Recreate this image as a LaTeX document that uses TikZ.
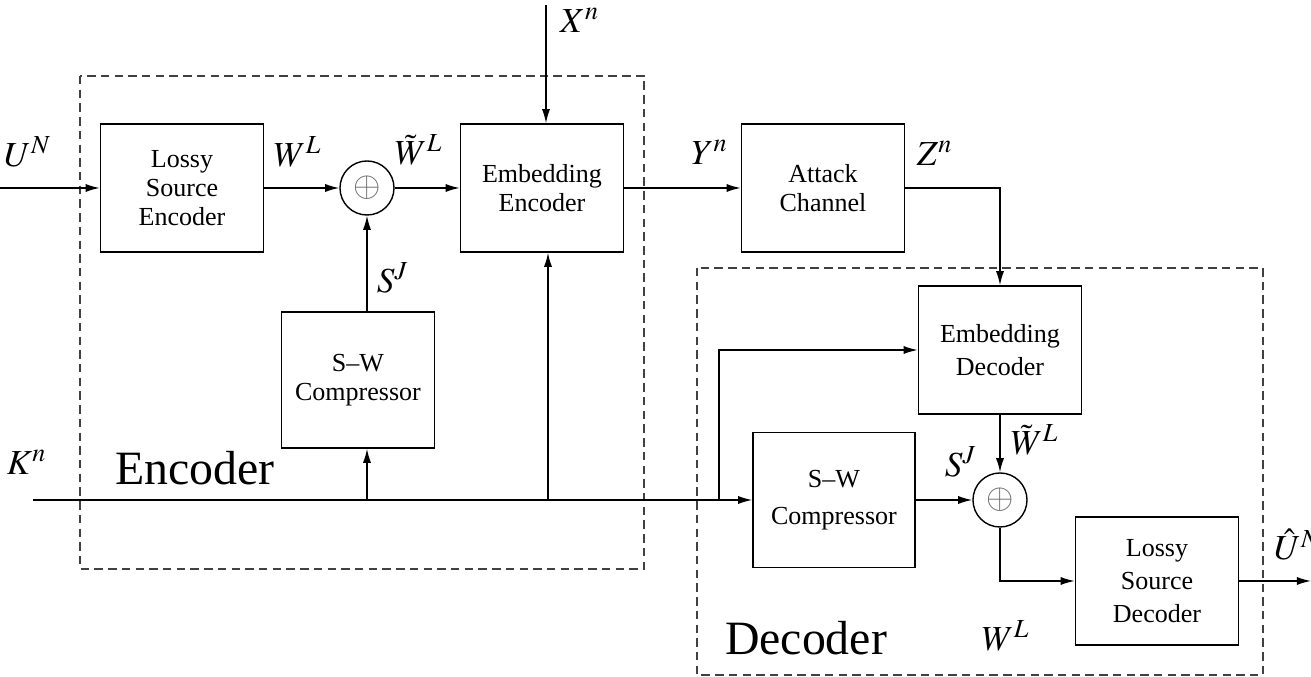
\documentclass[tikz,border=0pt]{standalone}
\usepackage{mathptmx}
\usepackage{fontspec}
\setmainfont{Liberation Serif}
\usepackage{tikz}
\usetikzlibrary{arrows.meta,positioning}

\tikzset{
  blok/.style={draw, rectangle, align=center, minimum width=1.63cm, minimum height=1.28cm,
    inner sep=1pt, font=\fontsize{7.4}{8.2}\selectfont},
  wideblok/.style={blok, font=\fontsize{7.4}{9.4}\selectfont},
  summer/.style={draw, circle, minimum size=0.54cm, inner sep=0pt, font=\color{black!60}},
  lbl/.style={inner sep=0pt, font=\fontsize{10}{12}\selectfont},
  biglbl/.style={inner sep=0pt, font=\fontsize{13.6}{16}\selectfont},
  frame/.style={draw=black!75, dash pattern=on 2.4pt off 1.5pt},
  >={Latex[length=4pt,width=2.3pt]}
}

\begin{document}
\begin{tikzpicture}[x=0.01cm,y=-0.01cm]
  \useasboundingbox (0,0) rectangle (1311,677);

  % encoder and decoder frames
  \draw[frame] (80,76) rectangle (644,569);
  \draw[frame] (697,268) rectangle (1263,675);

  % blocks
  \node[blok] (lse) at (182,188) {Lossy\\Source\\Encoder};
  \node[summer] (adde) at (367,188) {$\oplus$};
  \node[blok] (embe) at (542,188) {Embedding\\Encoder};
  \node[blok] (atk) at (823,188) {Attack\\Channel};
  \node[blok, minimum width=1.53cm, minimum height=1.36cm] (swe) at (358,380) {S--W\\Compressor};
  \node[wideblok] (embd) at (1000,350) {Embedding\\Decoder};
  \node[blok, font=\fontsize{7.4}{10.4}\selectfont, minimum width=1.62cm, minimum height=1.35cm] (swd) at (834,500) {S--W\\Compressor};
  \node[summer] (addd) at (1000,500) {$\oplus$};
  \node[wideblok] (lsd) at (1157,581) {Lossy\\Source\\Decoder};

  % free ends
  \coordinate (uin) at (0,188);
  \coordinate (xin) at (546,5);
  \coordinate (kin) at (33,500);
  \coordinate (ke) at (548,500);
  \coordinate (kd) at (719,500);
  \coordinate (uout) at (1311,581);

  % connectors
  \path[->]
  (uin) edge (lse.west)
  (lse.east) edge (adde.west)
  (adde.east) edge (embe.west)
  (swe.north -| adde) edge (adde.south)
  (xin) edge (xin |- embe.north)
  (embe.east) edge (atk.west)
  (embd.south) edge (addd.north)
  (swd.east) edge (addd.west)
  (lsd.east) edge (uout)
  (kin) edge (swd.west)
  (kin -| adde) edge (swe.south -| adde)
  (ke) edge (ke |- embe.south)
  ;
  \draw[->] (atk.east) -| (embd.north);
  \draw[->] (kd) |- (embd.west);
  \draw[->] (addd.south) |- (lsd.west);

  % labels
  \node[lbl] (lu) at (28,152) {$U^N$};
  \node[lbl] (lw) at (298,152) {$W^L$};
  \node[lbl] (lwt) at (419,150) {$\tilde{W}^L$};
  \node[lbl] (lx) at (580,20) {$X^n$};
  \node[lbl] (ly) at (710,152) {$Y^n$};
  \node[lbl] (lz) at (935,153) {$Z^n$};
  \node[lbl] (lse2) at (393,278) {$S^J$};
  \node[lbl] (lk) at (27,462) {$K^n$};
  \node[lbl] (lsd2) at (961,462) {$S^J$};
  \node[lbl] (lwtd) at (1035,440) {$\tilde{W}^L$};
  \node[lbl] (lwd) at (1006,636) {$W^L$};
  \node[lbl] (luh) at (1298,545) {$\hat{U}^N$};
  \node[biglbl] (tenc) at (195,468) {Encoder};
  \node[biglbl] (tdec) at (806,638) {Decoder};
\end{tikzpicture}
\end{document}
